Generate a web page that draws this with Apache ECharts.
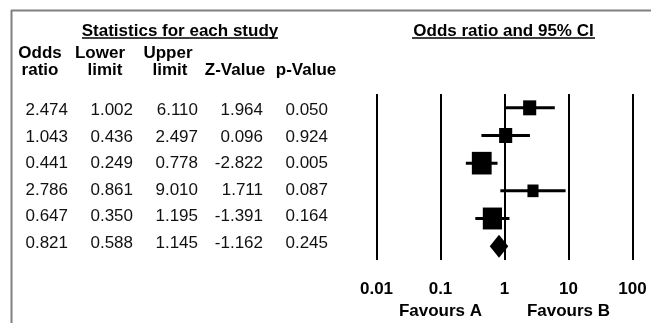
<!DOCTYPE html>
<html><head><meta charset="utf-8">
<script src="https://cdn.jsdelivr.net/npm/echarts@6/dist/echarts.min.js"></script>
<style>html,body{margin:0;padding:0;background:#fff}#c{width:651px;height:323px}</style>
</head><body><div id="c"></div>
<script>
// ---- data ----
const rows = ['Study 1','Study 2','Study 3','Study 4','Study 5','Summary'];
const rowType = ['study','study','study','study','study','summary'];
const oddsRatio = [2.474, 1.043, 0.441, 2.786, 0.647, 0.821];
const lowerLimit = [1.002, 0.436, 0.249, 0.861, 0.350, 0.588];
const upperLimit = [6.110, 2.497, 0.778, 9.010, 1.195, 1.145];
const zValue = [1.964, 0.096, -2.822, 1.711, -1.391, -1.162];
const pValue = [0.050, 0.924, 0.005, 0.087, 0.164, 0.245];
const weights = [14, 14, 32, 10, 30, 0]; // relative study weights (box size)
const colHeaderTop = ['Odds', 'Lower', 'Upper', '', ''];
const colHeaderBottom = ['ratio', 'limit', 'limit', 'Z-Value', 'p-Value'];
const xTicks = [0.01, 0.1, 1, 10, 100];
const favourLabels = ['Favours A', 'Favours B'];
const favourAt = [0.1, 10];

const FONT = '"Liberation Sans", Arial, sans-serif';
const chart = echarts.init(document.getElementById('c'), null, {renderer: 'canvas'});

const tableCols = [oddsRatio, lowerLimit, upperLimit, zValue, pValue];
const tableData = [];
tableCols.forEach((col, ci) => col.forEach((v, ri) => tableData.push([ci, ri, v.toFixed(3)])));

const forestData = rows.map((r, i) => [i, oddsRatio[i], lowerLimit[i], upperLimit[i], weights[i], rowType[i] === 'summary' ? 1 : 0]);

const option = {
  animation: false,
  grid: [
    {left: 376.5, width: 256, top: 94, height: 166},
    {left: 35.5, width: 325, top: 97.5, height: 159}
  ],
  xAxis: [
    {gridIndex: 0, type: 'log', logBase: 10, min: xTicks[0], max: xTicks[xTicks.length - 1],
     axisLine: {show: false}, axisTick: {show: false},
     splitLine: {show: true, lineStyle: {color: '#000', width: 2}},
     axisLabel: {margin: 21, color: '#000', fontFamily: FONT, fontWeight: 'bold', fontSize: 17,
       formatter: v => String(+v.toPrecision(3))}},
    {gridIndex: 1, type: 'value', min: -0.5, max: 4.5, show: false}
  ],
  yAxis: [
    {gridIndex: 0, type: 'category', data: rows, inverse: true, show: false},
    {gridIndex: 1, type: 'category', data: rows, inverse: true, show: false}
  ],
  series: [
    {
      type: 'custom', xAxisIndex: 0, yAxisIndex: 0, data: forestData, clip: false,
      renderItem(params, api) {
        const row = api.value(0);
        const c = api.coord([api.value(1), row]);
        const l = api.coord([api.value(2), row]);
        const h = api.coord([api.value(3), row]);
        if (api.value(5) === 1) {
          const hh = 11.5;
          return {type: 'polygon', shape: {points: [[l[0], c[1]], [c[0], c[1] - hh], [h[0], c[1]], [c[0], c[1] + hh]]},
                  style: {fill: '#000'}};
        }
        const w = Math.sqrt(api.value(4));
        const bw = 3.5 * w, bh = 4.0 * w;
        return {type: 'group', children: [
          {type: 'line', shape: {x1: l[0], y1: c[1], x2: h[0], y2: c[1]}, style: {stroke: '#000', lineWidth: 3}},
          {type: 'rect', shape: {x: c[0] - bw / 2, y: c[1] - bh / 2, width: bw, height: bh}, style: {fill: '#000'}}
        ]};
      }
    },
    {
      type: 'custom', xAxisIndex: 1, yAxisIndex: 1, data: tableData, clip: false,
      renderItem(params, api) {
        const p = api.coord([api.value(0), api.value(1)]);
        return {type: 'text', x: p[0], y: p[1],
          style: {text: tableData[params.dataIndex][2], align: 'right', verticalAlign: 'middle',
                  font: '17px ' + FONT, fill: '#111'}};
      }
    }
  ],
  graphic: [
    {type: 'line', shape: {x1: 11, y1: 10.5, x2: 651, y2: 10.5}, style: {stroke: '#808080', lineWidth: 2}},
    {type: 'line', shape: {x1: 11.5, y1: 10, x2: 11.5, y2: 323}, style: {stroke: '#808080', lineWidth: 2}},
    {type: 'text', x: 180, y: 31, style: {text: 'Statistics for each study', align: 'center', verticalAlign: 'middle',
      font: 'bold 17px ' + FONT, fill: '#000'}},
    {type: 'line', shape: {x1: 82, y1: 38, x2: 278, y2: 38}, style: {stroke: '#000', lineWidth: 1.5}},
    {type: 'text', x: 503.5, y: 31, style: {text: 'Odds ratio and 95% CI', align: 'center', verticalAlign: 'middle',
      font: 'bold 17px ' + FONT, fill: '#000'}},
    {type: 'line', shape: {x1: 412, y1: 38, x2: 595, y2: 38}, style: {stroke: '#000', lineWidth: 1.5}},
    ...[40, 100, 168, 235, 306].flatMap((x, i) => [
      {type: 'text', x: x, y: 53, style: {text: colHeaderTop[i], align: 'center', verticalAlign: 'middle', font: 'bold 17px ' + FONT, fill: '#000'}},
      {type: 'text', x: x + (i === 1 ? 5 : i === 2 ? 2 : 0), y: 70, style: {text: colHeaderBottom[i], align: 'center', verticalAlign: 'middle', font: 'bold 17px ' + FONT, fill: '#000'}}
    ]),
    ...favourLabels.map((t, i) => ({type: 'text', x: 376.5 + 64 * (Math.log10(favourAt[i]) + 2), y: 311,
      style: {text: t, align: 'center', verticalAlign: 'middle', font: 'bold 17px ' + FONT, fill: '#000'}}))
  ]
};
chart.setOption(option);
</script></body></html>
